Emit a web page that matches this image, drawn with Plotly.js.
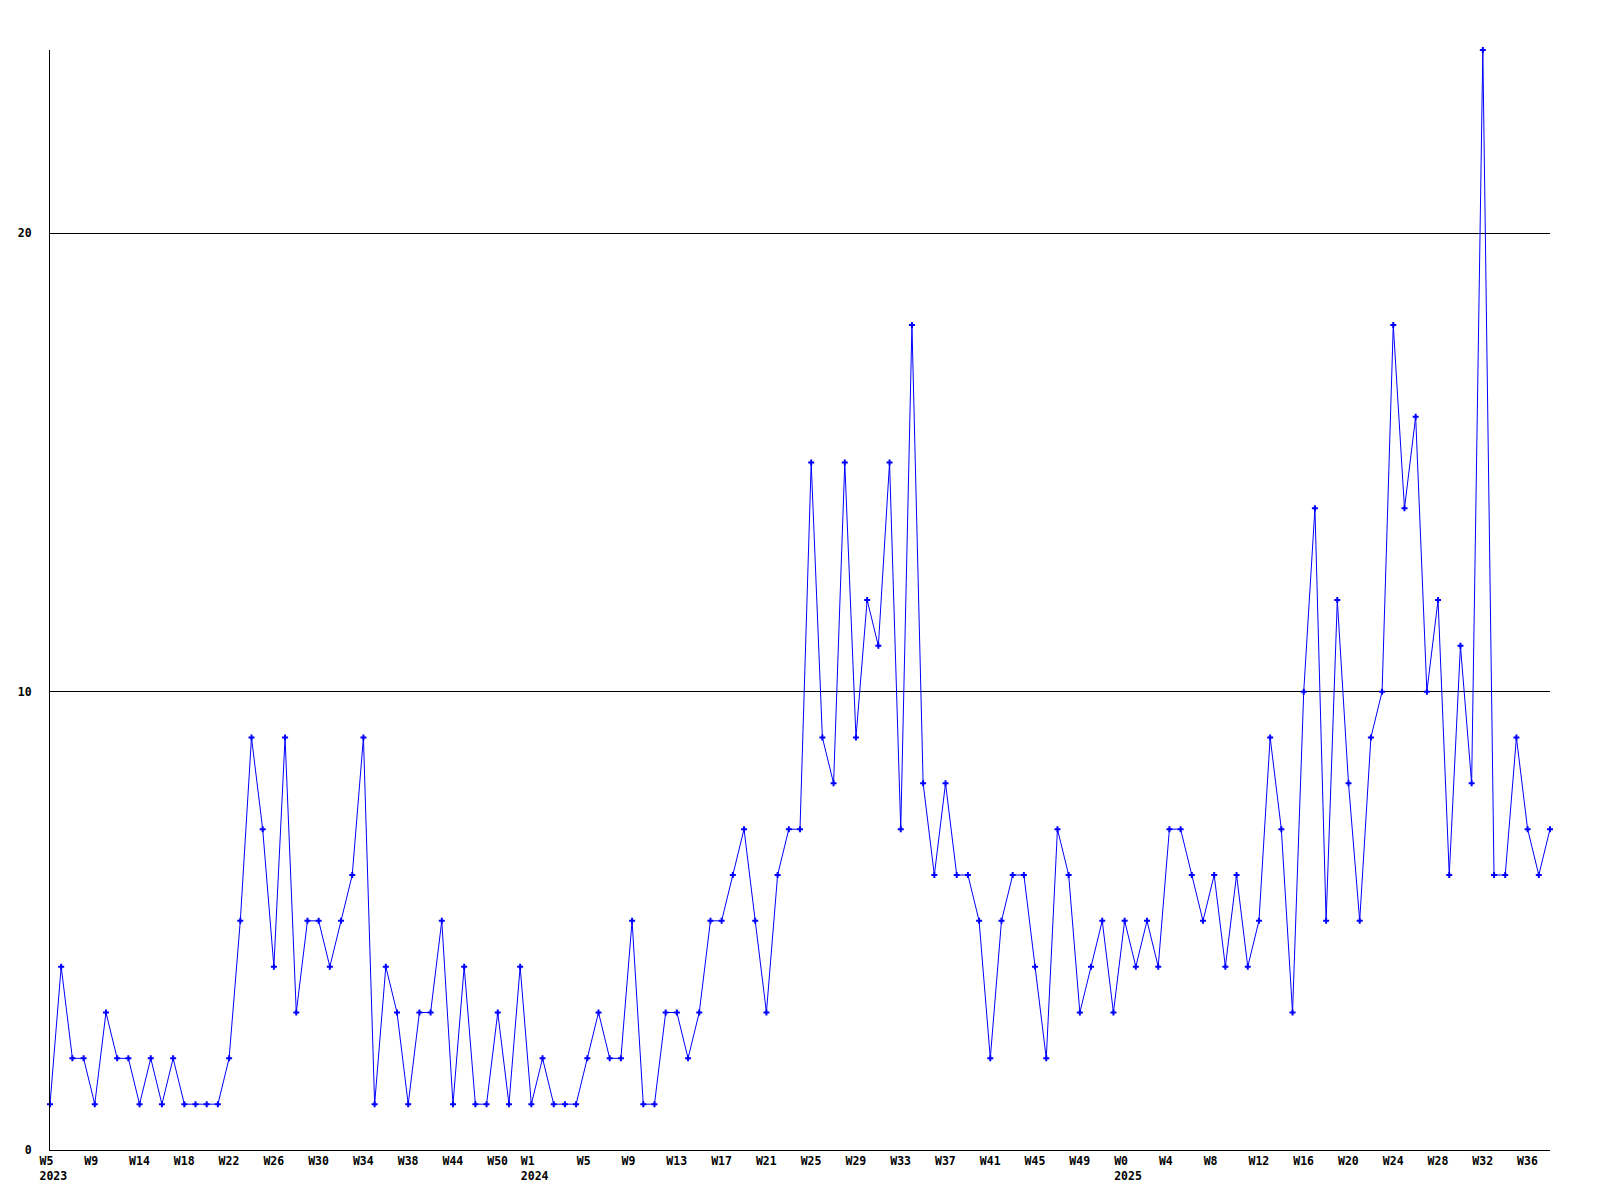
<!DOCTYPE html>
<html>
<head>
<meta charset="utf-8">
<script src="https://cdn.plot.ly/plotly-3.0.1.min.js"></script>
<style>
  html, body { margin: 0; padding: 0; background: #ffffff; }
  #chart { width: 1600px; height: 1200px; }
</style>
</head>
<body>
<div id="chart"></div>
<script>
// Weekly counts, one value per plotted week (W5 2023 .. ~W38 2025)
const weeklyCounts = [
  1,4,2,2,1,3,2,2,1,2,
  1,2,1,1,1,1,2,5,9,7,
  4,9,3,5,5,4,5,6,9,1,
  4,3,1,3,3,5,1,4,1,1,
  3,1,4,1,2,1,1,1,2,3,
  2,2,5,1,1,3,3,2,3,5,
  5,6,7,5,3,6,7,7,15,9,
  8,15,9,12,11,15,7,18,8,6,
  8,6,6,5,2,5,6,6,4,2,
  7,6,3,4,5,3,5,4,5,4,
  7,7,6,5,6,4,6,4,5,9,
  7,3,10,14,5,12,8,5,9,10,
  18,14,16,10,12,6,11,8,24,6,
  6,9,7,6,7
];

// Tick labels and the plotted-week position each one sits at
const tickWeeks = [
  "W5","W9","W14","W18","W22","W26","W30","W34","W38","W44","W50",
  "W1","W5","W9","W13","W17","W21","W25","W29","W33","W37","W41","W45","W49",
  "W0","W4","W8","W12","W16","W20","W24","W28","W32","W36"
];
const tickYears = [
  "2023","","","","","","","","","","",
  "2024","","","","","","","","","","","","",
  "2025","","","","","","","","",""
];
const tickPositions = [
  0,4,8,12,16,20,24,28,32,36,40,
  43,48,52,56,60,64,68,72,76,80,84,88,92,
  96,100,104,108,112,116,120,124,128,132
];

const yTickVals = [0, 10, 20];
const yMax = 24;

const xIdx = weeklyCounts.map((_, i) => i);
const tickText = tickWeeks.map((w, i) => tickYears[i] ? (w + "<br>" + tickYears[i]) : w);

const font = { family: "DejaVu Sans Mono, monospace", size: 11.5, color: "#000000", weight: "bold" };

const trace = {
  x: xIdx,
  y: weeklyCounts,
  type: "scatter",
  mode: "lines+markers",
  line: { color: "#0000ff", width: 1 },
  marker: { symbol: "cross", size: 5, color: "#0000ff" },
  cliponaxis: false,
  hoverinfo: "skip"
};

const layout = {
  width: 1600,
  height: 1200,
  margin: { l: 50, r: 50, t: 50, b: 50, pad: 0 },
  paper_bgcolor: "#ffffff",
  plot_bgcolor: "#ffffff",
  showlegend: false,
  font: font,
  xaxis: {
    range: [0, xIdx.length - 1],
    tickmode: "array",
    tickvals: tickPositions,
    ticktext: tickText,
    showgrid: false,
    zeroline: false,
    showline: true,
    linecolor: "#000000",
    linewidth: 1,
    ticks: "",
    ticklabelposition: "outside right",
    ticklabelshift: -11,
    tickfont: font
  },
  yaxis: {
    range: [0, yMax],
    tickmode: "array",
    tickvals: yTickVals,
    ticktext: yTickVals.map(String),
    showgrid: true,
    gridcolor: "#000000",
    gridwidth: 1,
    zeroline: false,
    showline: true,
    linecolor: "#000000",
    linewidth: 1,
    ticks: "",
    ticklabelstandoff: 15,
    tickfont: font
  }
};

Plotly.newPlot("chart", [trace], layout, { staticPlot: true, displayModeBar: false });
</script>
</body>
</html>
